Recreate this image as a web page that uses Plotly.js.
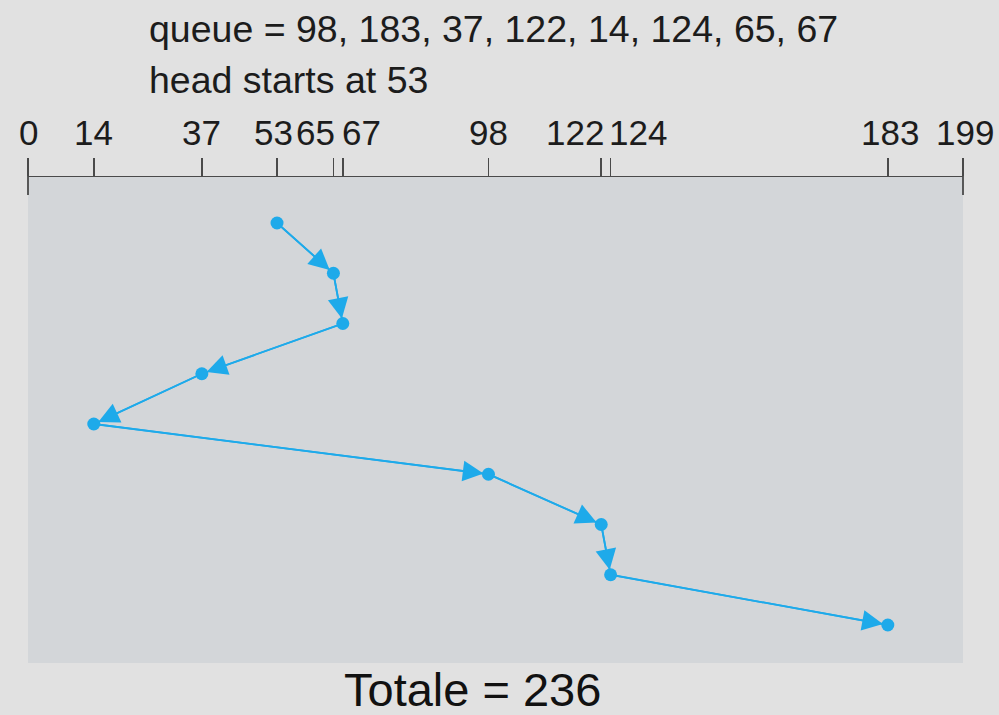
<!DOCTYPE html>
<html>
<head>
<meta charset="utf-8">
<script src="https://cdn.plot.ly/plotly-3.0.1.min.js"></script>
<style>
html, body { margin: 0; padding: 0; background: #e1e1e1; }
#chart { width: 999px; height: 715px; }
</style>
</head>
<body>
<div id="chart"></div>
<script>
// ---- data ----
const queue = [98, 183, 37, 122, 14, 124, 65, 67];
const headStart = 53;
const serviceOrder = [53, 65, 67, 37, 14, 98, 122, 124, 183];
const stepIndex = [0, 1, 2, 3, 4, 5, 6, 7, 8];
const tickValues = [0, 14, 37, 53, 65, 67, 98, 122, 124, 183, 199];
const tickLabels = ["0", "14", "37", "53", "65", "67", "98", "122", "124", "183", "199"];
const totalMovement = 236;

// ---- style ----
const blue = '#1eaaea';
const axisColor = '#4a4a4a';
const textColor = '#1c1c1c';
const font = 'Liberation Sans, Arial, Helvetica, sans-serif';

const W = 999, H = 715;
const margin = { l: 28, r: 36, t: 177, b: 52, pad: 0 };
const plotH = H - margin.t - margin.b;
const plotW = W - margin.l - margin.r;
const py = (pix) => (H - margin.b - pix) / plotH;   // pixel y -> paper y
const px = (pix) => (pix - margin.l) / plotW;       // pixel x -> paper x

const trace = {
  x: serviceOrder,
  y: stepIndex,
  type: 'scatter',
  mode: 'lines+markers',
  line: { color: blue, width: 1.8 },
  marker: { color: blue, size: 13 },
  hoverinfo: 'skip',
  cliponaxis: false
};

const annotations = [];

// arrows along path
for (let i = 1; i < serviceOrder.length; i++) {
  annotations.push({
    x: serviceOrder[i], y: stepIndex[i],
    ax: serviceOrder[i - 1], ay: stepIndex[i - 1],
    xref: 'x', yref: 'y', axref: 'x', ayref: 'y',
    text: '', showarrow: true,
    arrowhead: 2, arrowsize: 2.3, arrowwidth: 1.8,
    arrowcolor: blue, standoff: 5
  });
}

// tick labels (manual placement for crowded pairs)
const labelTweaks = {
  "53": { xanchor: 'center', xshift: -4 },
  "65": { xanchor: 'right', xshift: 4 },
  "67": { xanchor: 'left', xshift: -3 },
  "122": { xanchor: 'right', xshift: 5 },
  "124": { xanchor: 'left', xshift: -4 },
  "183": { xanchor: 'center', xshift: 2 },
  "199": { xanchor: 'center', xshift: 2 }
};
tickValues.forEach((v, i) => {
  const t = labelTweaks[tickLabels[i]] || { xanchor: 'center', xshift: 0 };
  annotations.push({
    x: v, xref: 'x', y: py(132), yref: 'paper',
    text: tickLabels[i], showarrow: false,
    xanchor: t.xanchor, yanchor: 'middle', xshift: t.xshift,
    font: { family: font, size: 35, color: textColor }
  });
});

// header lines
annotations.push({
  x: px(147), xref: 'paper', y: py(29), yref: 'paper',
  text: 'queue = ' + queue.join(', '), showarrow: false,
  xanchor: 'left', yanchor: 'middle',
  font: { family: font, size: 37.5, color: textColor }
});
annotations.push({
  x: px(147), xref: 'paper', y: py(80), yref: 'paper',
  text: 'head starts at ' + headStart, showarrow: false,
  xanchor: 'left', yanchor: 'middle',
  font: { family: font, size: 37.5, color: textColor }
});
// total
annotations.push({
  x: px(472), xref: 'paper', y: py(689), yref: 'paper',
  text: 'Totale = ' + totalMovement, showarrow: false,
  xanchor: 'center', yanchor: 'middle',
  font: { family: font, size: 47, color: '#111111' }
});

const shapes = [
  // longer end ticks extending below the axis line
  { type: 'line', xref: 'paper', yref: 'paper', x0: 0, x1: 0, y0: py(195), y1: py(159),
    line: { color: axisColor, width: 1.8 } },
  { type: 'line', xref: 'paper', yref: 'paper', x0: 1, x1: 1, y0: py(195), y1: py(159),
    line: { color: axisColor, width: 1.8 } }
];

const layout = {
  width: W, height: H,
  margin: margin,
  paper_bgcolor: '#e1e1e1',
  plot_bgcolor: '#d3d6d9',
  showlegend: false,
  xaxis: {
    side: 'top',
    range: [0, 199],
    showgrid: false, zeroline: false,
    showline: true, linecolor: axisColor, linewidth: 1.5,
    ticks: 'outside', ticklen: 18, tickwidth: 1.5, tickcolor: axisColor,
    tickmode: 'array', tickvals: tickValues,
    showticklabels: false,
    fixedrange: true
  },
  yaxis: {
    range: [(663 - 223) / 50.25, (177 - 223) / 50.25],
    showgrid: false, zeroline: false, showline: false,
    showticklabels: false, ticks: '',
    fixedrange: true
  },
  annotations: annotations,
  shapes: shapes
};

Plotly.newPlot('chart', [trace], layout, { staticPlot: true, displayModeBar: false });
</script>
</body>
</html>
